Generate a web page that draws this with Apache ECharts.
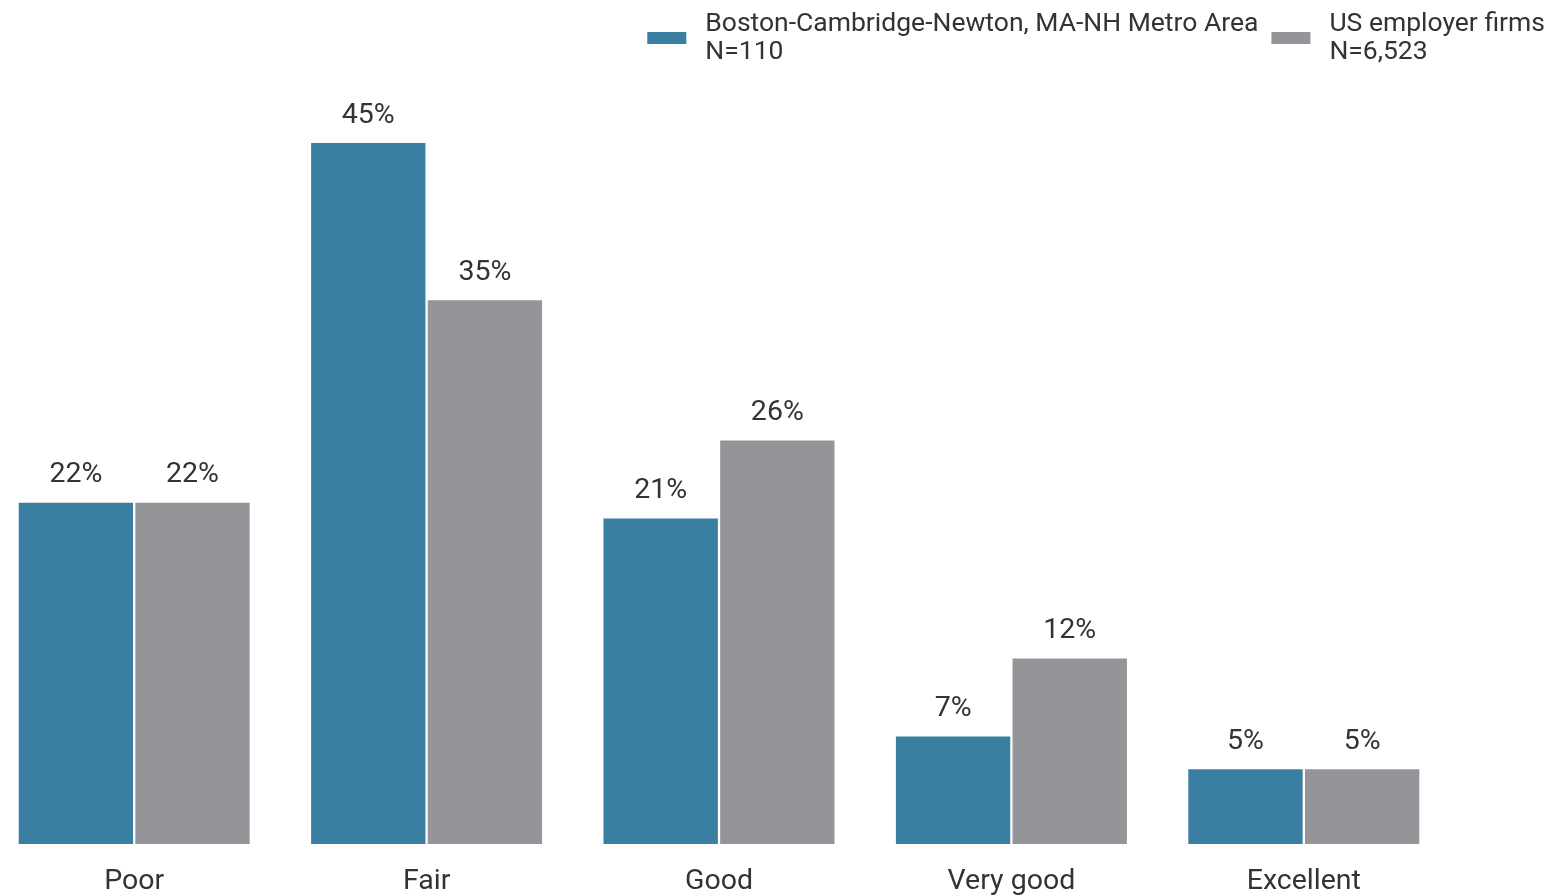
<!DOCTYPE html>
<html>
<head>
<meta charset="utf-8">
<script src="https://cdn.jsdelivr.net/npm/echarts@6/dist/echarts.min.js"></script>
<style>
  html, body { margin: 0; padding: 0; background: #fff; overflow: hidden; }
  #chart { width: 1565px; height: 896px; margin-left: -12px; }
</style>
</head>
<body>
<div id="chart"></div>
<script>
const categories = ['Poor', 'Fair', 'Good', 'Very good', 'Excellent']
const seriesNames = ['Boston-Cambridge-Newton, MA-NH Metro Area', 'US employer firms']
const sampleSizes = ['N=110', 'N=6,523']
// bar heights; labels show them rounded
const bostonValues = [21.9, 45, 20.9, 6.9, 4.8]
const usValues = [21.9, 34.9, 25.9, 11.9, 4.8]

const chart = echarts.init(document.getElementById('chart'))

const labelStyle = {
  show: true,
  position: 'top',
  distance: 13,
  formatter: function (p) {
    return Math.round(p.value) + '%'
  },
  color: '#333',
  fontSize: 28.5,
  fontFamily: 'Roboto'
}

const option = {
  backgroundColor: '#fff',
  textStyle: { fontFamily: 'Roboto' },
  legend: {
    top: 5,
    right: 3,
    itemWidth: 39,
    itemHeight: 12,
    itemGap: 13,
    icon: 'rect',
    textStyle: {
      fontSize: 26.5,
      color: '#333',
      lineHeight: 28,
      padding: [0, 0, 0, 14],
      fontFamily: 'Roboto'
    },
    formatter: function (name) {
      const i = seriesNames.indexOf(name)
      return name + '\n' + sampleSizes[i]
    },
    data: seriesNames
  },
  grid: {
    left: 0,
    right: 103,
    top: 65,
    height: 786,
    containLabel: false
  },
  xAxis: {
    type: 'category',
    data: categories,
    axisLine: { show: false },
    axisTick: { show: false },
    axisLabel: {
      margin: 23,
      fontSize: 28.5,
      color: '#333',
      fontFamily: 'Roboto'
    }
  },
  yAxis: {
    type: 'value',
    min: 0,
    max: 50,
    show: false,
    splitLine: { show: false }
  },
  series: [
    {
      name: seriesNames[0],
      type: 'bar',
      data: bostonValues,
      barGap: '2%',
      barCategoryGap: '21%',
      itemStyle: { color: '#3a7ea1' },
      label: labelStyle
    },
    {
      name: seriesNames[1],
      type: 'bar',
      data: usValues,
      itemStyle: { color: '#939598' },
      label: labelStyle
    }
  ]
}

chart.setOption(option)
</script>
</body>
</html>
